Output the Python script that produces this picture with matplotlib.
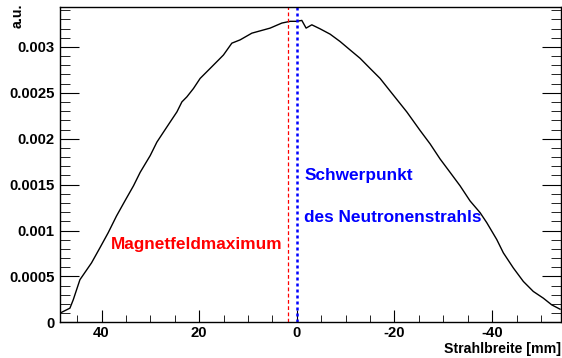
import numpy as np
import matplotlib.pyplot as plt
from matplotlib.ticker import MultipleLocator

plt.rcParams['font.family'] = ['Liberation Sans', 'DejaVu Sans']
plt.rcParams['font.weight'] = 'bold'
plt.rcParams['axes.unicode_minus'] = False

# beam profile (x in mm, intensity in a.u.)
pos = [48.31, 46.47, 45.79, 44.42, 42.05, 40.33, 38.63, 36.93, 35.21, 33.45,
       32.08, 30.03, 28.66, 27.31, 25.94, 24.56, 23.54, 22.52, 21.17, 19.80,
       17.75, 16.05, 15.03, 13.31, 11.61, 9.21, 7.51, 5.47, 3.07, 1.37,
       0.0, -1.02, -1.90, -3.07, -4.77, -6.82, -8.86, -10.91, -12.96, -15.0,
       -17.05, -18.96, -22.52, -25.24, -27.29, -29.33, -31.38, -33.43, -35.48, -37.52,
       -38.89, -40.94, -42.29, -44.34, -46.39, -48.43, -50.48, -52.20, -53.90]
counts = [0.105, 0.154, 0.245, 0.464, 0.647, 0.811, 0.976, 1.158, 1.322, 1.487,
          1.634, 1.816, 1.963, 2.072, 2.182, 2.292, 2.401, 2.456, 2.547, 2.657,
          2.766, 2.857, 2.912, 3.041, 3.077, 3.150, 3.175, 3.205, 3.260, 3.279,
          3.279, 3.289, 3.205, 3.241, 3.197, 3.139, 3.059, 2.967, 2.876, 2.766,
          2.657, 2.529, 2.292, 2.090, 1.944, 1.780, 1.634, 1.487, 1.322, 1.195,
          1.086, 0.902, 0.757, 0.592, 0.445, 0.336, 0.263, 0.190, 0.143]
counts = np.array(counts) * 1e-3

field_max = 1.9
beam_center = 0.0

fig = plt.figure(figsize=(5.62, 3.58), dpi=100)
ax = fig.add_axes([60/562, 1 - 322.3/358, 501/562, 315.3/358])

ax.plot(pos, counts, color='black', lw=1.0)
ax.axvline(field_max, color='red', lw=0.9, ls=(0, (3, 2)))
ax.axvline(beam_center, color='blue', lw=1.8, ls=(0, (1.2, 1.2)))

ax.text(38.0, 0.000848, 'Magnetfeldmaximum', color='red', fontsize=12.4,
        fontweight='bold', va='center', ha='left')
ax.text(-1.5, 0.00160, 'Schwerpunkt', color='blue', fontsize=12.4,
        fontweight='bold', va='center', ha='left')
ax.text(-1.5, 0.00114, 'des Neutronenstrahls', color='blue', fontsize=12.4,
        fontweight='bold', va='center', ha='left')

ax.set_xlim(48.5, -54.1)
ax.set_ylim(0, 0.003435)

ax.xaxis.set_major_locator(MultipleLocator(20))
ax.xaxis.set_minor_locator(MultipleLocator(5))
ax.yaxis.set_major_locator(MultipleLocator(0.0005))
ax.yaxis.set_minor_locator(MultipleLocator(0.0001))
ax.set_yticks([0, 0.0005, 0.001, 0.0015, 0.002, 0.0025, 0.003])
ax.set_yticklabels(['0', '0.0005', '0.001', '0.0015', '0.002', '0.0025', '0.003'])

ax.tick_params(axis='both', which='both', direction='in', labelsize=10.7)
ax.tick_params(axis='y', which='major', length=14, right=True, pad=4)
ax.tick_params(axis='y', which='minor', length=7, right=True)
ax.tick_params(axis='x', which='major', length=9, pad=3)
ax.tick_params(axis='x', which='minor', length=5)
for lab in ax.get_xticklabels() + ax.get_yticklabels():
    lab.set_fontweight('bold')

for s in ax.spines.values():
    s.set_linewidth(1.0)

fig.text(18/562, 1 - 4/358, 'a.u.', rotation=90, ha='center', va='top',
         fontsize=10.2, fontweight='bold')
fig.text(561/562, 1 - 349/358, 'Strahlbreite [mm]', ha='right', va='center',
         fontsize=10.2, fontweight='bold')

fig.savefig('out.png', dpi=100)
